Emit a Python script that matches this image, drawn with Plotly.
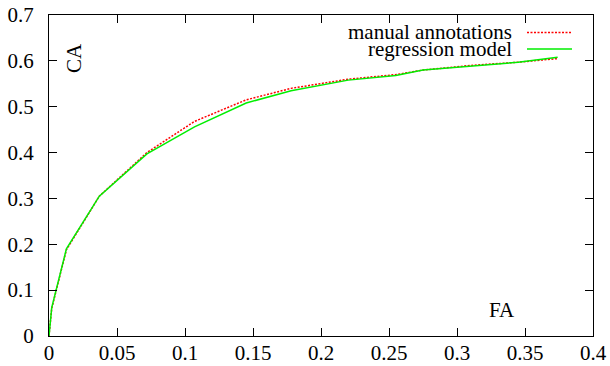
import plotly.graph_objects as go

fa = [0, 0.002, 0.0128, 0.037, 0.072, 0.107, 0.145, 0.178, 0.22, 0.255, 0.275, 0.31, 0.345, 0.374]
manual_ca = [0, 0.06, 0.188, 0.305, 0.400, 0.468, 0.515, 0.540, 0.560, 0.570, 0.580, 0.590, 0.597, 0.605]
regression_ca = [0, 0.062, 0.190, 0.305, 0.397, 0.456, 0.508, 0.535, 0.558, 0.568, 0.580, 0.588, 0.597, 0.608]
series_names = ["manual annotations", "regression model"]
x_ticks = [0, 0.05, 0.1, 0.15, 0.2, 0.25, 0.3, 0.35, 0.4]
x_tick_text = ["0", "0.05", "0.1", "0.15", "0.2", "0.25", "0.3", "0.35", "0.4"]
y_ticks = [0, 0.1, 0.2, 0.3, 0.4, 0.5, 0.6, 0.7]
y_tick_text = ["0", "0.1", "0.2", "0.3", "0.4", "0.5", "0.6", "0.7"]

FONT = "Liberation Serif"
FS = 21
W, H = 610, 366
L, R, T, B = 49, 17, 15, 30

fig = go.Figure()
fig.add_trace(go.Scatter(x=fa, y=manual_ca, mode="lines", name=series_names[0],
                         line=dict(color="#ff0000", width=1.5, dash="2px,1.5px")))
fig.add_trace(go.Scatter(x=fa, y=regression_ca, mode="lines", name=series_names[1],
                         line=dict(color="#00ee00", width=1.5)))

axis_common = dict(showgrid=False, zeroline=False, showline=True, linecolor="black",
                   linewidth=1, mirror="ticks", ticks="inside", ticklen=8,
                   tickcolor="black", tickwidth=1, automargin=False,
                   tickfont=dict(family=FONT, size=FS, color="black"))
fig.update_xaxes(range=[0, 0.4], tickvals=x_ticks, ticktext=x_tick_text,
                 ticklabelstandoff=-2, **axis_common)
fig.update_yaxes(range=[0, 0.7], tickvals=y_ticks, ticktext=y_tick_text,
                 ticklabelstandoff=10, **axis_common)

pw = W - L - R
ph = H - T - B
def px(xp):
    return (xp - L) / pw
def py(yp):
    return 1 - (yp - T) / ph

legend_rows = [(series_names[0], 32.5, dict(color="#ff0000", width=1.5, dash="2px,1.5px")),
               (series_names[1], 49, dict(color="#00ee00", width=1.5))]
for name, yy, ln in legend_rows:
    fig.add_annotation(x=px(514), y=py(yy), xref="paper", yref="paper", text=name,
                       showarrow=False, xanchor="right", yanchor="middle",
                       font=dict(family=FONT, size=FS, color="black"))
    fig.add_shape(type="line", xref="paper", yref="paper", x0=px(527), x1=px(572),
                  y0=py(yy), y1=py(yy), line=ln)

fig.add_annotation(x=px(74), y=py(58), xref="paper", yref="paper", text="CA",
                   showarrow=False, textangle=-90, xanchor="center", yanchor="middle",
                   font=dict(family=FONT, size=FS, color="black"))
fig.add_annotation(x=px(502), y=py(310), xref="paper", yref="paper", text="FA",
                   showarrow=False, xanchor="center", yanchor="middle",
                   font=dict(family=FONT, size=FS, color="black"))

fig.update_layout(width=W, height=H, margin=dict(l=L, r=R, t=T, b=B),
                  plot_bgcolor="white", paper_bgcolor="white", showlegend=False)

fig.write_html("out.html", config={"displayModeBar": False},
               post_script="document.body.style.margin='0';")
